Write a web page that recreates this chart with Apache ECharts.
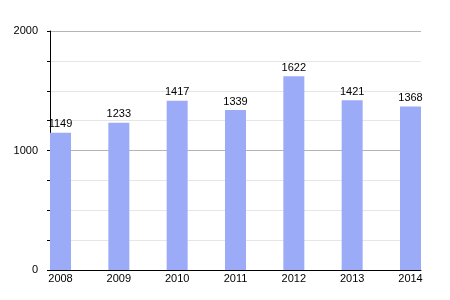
<!DOCTYPE html>
<html><head><meta charset="utf-8">
<script src="https://cdn.jsdelivr.net/npm/echarts@6/dist/echarts.min.js"></script>
<style>html,body{margin:0;padding:0;background:#fff}#c{width:450px;height:300px}</style>
</head><body><div id="c"></div>
<script>
var categories = ['2008','2009','2010','2011','2012','2013','2014'];
var values = [1149, 1233, 1417, 1339, 1622, 1421, 1368];
var yTickLabels = [0, 1000, 2000];

var chart = echarts.init(document.getElementById('c'), null, {renderer:'canvas'});
chart.setOption({
  animation: false,
  grid: {left: 50, right: 29, top: 31, bottom: 30, containLabel: false},
  xAxis: {
    type: 'value', min: -0.18, max: 6.18,
    axisLine: {show: true, onZero: false, lineStyle: {color: '#000', width: 1}},
    axisTick: {show: false},
    splitLine: {show: false},
    axisLabel: {
      show: true, margin: 3, color: '#000', fontSize: 11, fontFamily: 'Liberation Sans, Arial, sans-serif',
      customValues: categories.map(function(c, i){ return i; }),
      formatter: function(v){ return categories[Math.round(v)] || ''; }
    }
  },
  yAxis: {
    type: 'value', min: 0, max: 2000, interval: 250,
    axisLine: {show: true, onZero: false, lineStyle: {color: '#000', width: 1}},
    axisTick: {show: true, length: 3, inside: false, lineStyle: {color: '#000'}},
    axisLabel: {
      margin: 12, color: '#000', fontSize: 11, fontFamily: 'Liberation Sans, Arial, sans-serif',
      formatter: function(v){ return yTickLabels.indexOf(v) >= 0 ? String(v) : ''; }
    },
    splitLine: {show: true, lineStyle: {color: ['#b4b4b4', '#e6e6e6', '#e6e6e6', '#e6e6e6'], width: 1}}
  },
  series: [{
    type: 'bar',
    barWidth: 21,
    data: values.map(function(v, i){ return [i, v]; }),
    itemStyle: {color: '#9cabf8'},
    label: {show: true, position: 'top', distance: 3, color: '#000', fontSize: 11, fontFamily: 'Liberation Sans, Arial, sans-serif',
      formatter: function(p){ return String(p.value[1]); }}
  }]
});
</script></body></html>
